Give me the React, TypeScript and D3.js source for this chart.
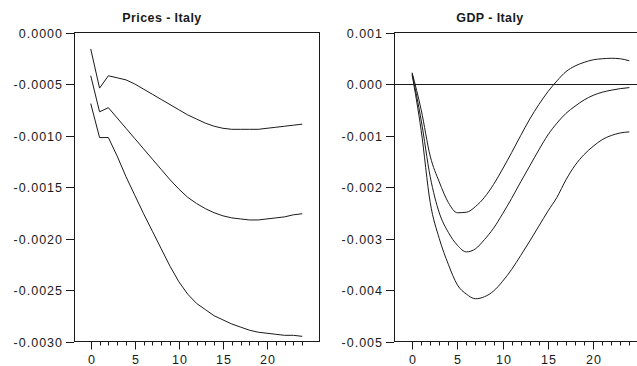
import React, { useEffect, useRef } from "react";
import * as d3 from "d3";

// horizon 0..24
const steps = d3.range(0, 25);

// Prices - Italy (upper band, response, lower band)
const pricesUpper = [
  -0.00016, -0.00054, -0.00042, -0.00044, -0.00046, -0.0005, -0.00055, -0.0006, -0.00065,
  -0.0007, -0.00075, -0.0008, -0.00084, -0.00088, -0.00091, -0.00093, -0.00094, -0.00094,
  -0.00094, -0.00094, -0.00093, -0.00092, -0.00091, -0.0009, -0.00089,
];
const pricesMid = [
  -0.00042, -0.00077, -0.00073, -0.00083, -0.00093, -0.00103, -0.00113, -0.00123, -0.00133,
  -0.00143, -0.00152, -0.0016, -0.00166, -0.00171, -0.00175, -0.00178, -0.0018, -0.00181,
  -0.00182, -0.00182, -0.00181, -0.0018, -0.00179, -0.00177, -0.00176,
];
const pricesLower = [
  -0.00069, -0.00102, -0.00102, -0.0012, -0.0014, -0.00158, -0.00176, -0.00193, -0.0021,
  -0.00227, -0.00242, -0.00254, -0.00263, -0.00269, -0.00275, -0.00279, -0.00283, -0.00286,
  -0.00289, -0.00291, -0.00292, -0.00293, -0.00294, -0.00294, -0.00295,
];

// GDP - Italy
const gdpUpper = [
  0.00022, -0.0005, -0.0014, -0.0019, -0.0023, -0.0025, -0.00249, -0.00238, -0.0022,
  -0.00195, -0.00165, -0.00133, -0.001, -0.00068, -0.0004, -0.00015, 0.00006, 0.00024,
  0.00035, 0.00042, 0.00047, 0.00049, 0.0005, 0.00049, 0.00045,
];
const gdpMid = [
  0.0002, -0.0007, -0.0018, -0.0025, -0.00288, -0.00313, -0.00326, -0.0032, -0.00302,
  -0.0028, -0.00252, -0.00222, -0.0019, -0.00159, -0.00128, -0.00099, -0.00076, -0.00057,
  -0.00043, -0.00031, -0.00022, -0.00016, -0.00012, -0.00009, -0.00007,
];
const gdpLower = [
  0.00018, -0.0009, -0.0023, -0.003, -0.0035, -0.0039, -0.00408, -0.00417, -0.00413,
  -0.00402, -0.00383, -0.0036, -0.00333, -0.00305, -0.00276, -0.00247, -0.0022, -0.00186,
  -0.00158, -0.00137, -0.00121, -0.00108, -0.001, -0.00095, -0.00093,
];

const pricesTicks = [0, -0.0005, -0.001, -0.0015, -0.002, -0.0025, -0.003];
const gdpTicks = [0.001, 0, -0.001, -0.002, -0.003, -0.004, -0.005];
const xMajor = [0, 5, 10, 15, 20];

const panels = [
  {
    title: "Prices - Italy",
    series: [pricesUpper, pricesMid, pricesLower],
    yTicks: pricesTicks,
    yDomain: [-0.003, 0],
    digits: 4,
    xDomain: [-1.9, 25.9],
    left: 74,
    right: 319,
    titleX: 162,
    zeroLine: false,
    curve: d3.curveLinear,
  },
  {
    title: "GDP - Italy",
    series: [gdpUpper, gdpMid, gdpLower],
    yTicks: gdpTicks,
    yDomain: [-0.005, 0.001],
    digits: 3,
    xDomain: [-2, 25],
    left: 394,
    right: 638.4,
    titleX: 490,
    zeroLine: true,
    curve: d3.curveMonotoneX,
  },
];

const W = 637;
const H = 366;
const top = 32.5;
const bottom = 341.5;
const ink = "#1a1a1a";
const font = "Arial, 'Liberation Sans', sans-serif";

export default function App() {
  const ref = useRef<SVGSVGElement>(null);

  useEffect(() => {
    const svg = d3.select(ref.current);
    svg.selectAll("*").remove();

    panels.forEach((p) => {
      const x = d3.scaleLinear().domain(p.xDomain).range([p.left, p.right]);
      const y = d3.scaleLinear().domain(p.yDomain).range([bottom, top]);
      const fmt = (v: number) => d3.format(`.${p.digits}f`)(v).replace("\u2212", "-");
      const g = svg.append("g");

      // frame
      g.append("rect")
        .attr("x", p.left + 0.5)
        .attr("y", top)
        .attr("width", p.right - p.left)
        .attr("height", bottom - top)
        .attr("fill", "none")
        .attr("stroke", ink)
        .attr("stroke-width", 1);

      if (p.zeroLine) {
        g.append("line")
          .attr("x1", p.left)
          .attr("x2", p.right)
          .attr("y1", Math.round(y(0)) + 0.5)
          .attr("y2", Math.round(y(0)) + 0.5)
          .attr("stroke", ink);
      }

      // y ticks
      p.yTicks.forEach((t) => {
        const yy = Math.round(y(t)) + 0.5;
        g.append("line")
          .attr("x1", p.left - 8)
          .attr("x2", p.left)
          .attr("y1", yy)
          .attr("y2", yy)
          .attr("stroke", ink);
        g.append("text")
          .attr("x", p.left - 11)
          .attr("y", yy + 4.5)
          .attr("text-anchor", "end")
          .attr("font-family", font)
          .attr("font-size", 12.5)
          .attr("letter-spacing", 1)
          .attr("fill", ink)
          .text(fmt(t));
      });

      // x ticks, minor every step
      steps.forEach((t) => {
        const xx = Math.round(x(t)) + 0.5;
        const major = xMajor.includes(t);
        g.append("line")
          .attr("x1", xx)
          .attr("x2", xx)
          .attr("y1", bottom)
          .attr("y2", bottom + (major ? 8 : 4))
          .attr("stroke", ink);
        if (major) {
          g.append("text")
            .attr("x", xx + 0.5)
            .attr("y", 364)
            .attr("text-anchor", "middle")
            .attr("font-family", font)
            .attr("font-size", 12.5)
            .attr("letter-spacing", 1)
            .attr("fill", ink)
            .text(t);
        }
      });

      // title
      g.append("text")
        .attr("x", p.titleX)
        .attr("y", 21.5)
        .attr("text-anchor", "middle")
        .attr("font-family", font)
        .attr("font-size", 12.5)
        .attr("font-weight", "bold")
        .attr("letter-spacing", 0.4)
        .attr("fill", ink)
        .text(p.title);

      const line = d3
        .line<number>()
        .x((_, i) => x(steps[i]))
        .y((v) => y(v))
        .curve(p.curve);

      g.selectAll(".series")
        .data(p.series)
        .enter()
        .append("path")
        .attr("fill", "none")
        .attr("stroke", ink)
        .attr("stroke-width", 1)
        .attr("d", (d) => line(d));
    });
  }, []);

  return (
    <svg
      ref={ref}
      width={W}
      height={H}
      style={{ position: "absolute", left: 0, top: 0, background: "#fff" }}
    />
  );
}
